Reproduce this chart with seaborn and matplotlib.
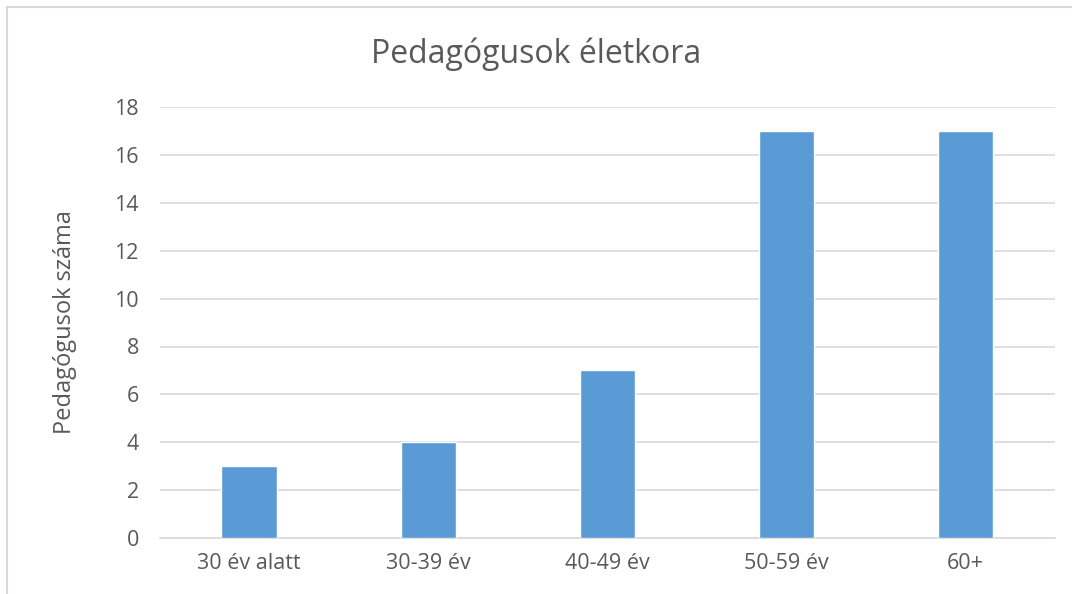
import matplotlib
matplotlib.use("Agg")
import matplotlib.pyplot as plt
import seaborn as sns
import pandas as pd

# data
age_groups = ["30 év alatt", "30-39 év", "40-49 év", "50-59 év", "60+"]
teacher_counts = [3, 4, 7, 17, 17]
y_ticks = [0, 2, 4, 6, 8, 10, 12, 14, 16, 18]

sns.set_theme(style="white")
plt.rcParams["font.family"] = ["Open Sans", "DejaVu Sans"]

df = pd.DataFrame({"group": age_groups, "count": teacher_counts})

fig = plt.figure(figsize=(10.72, 5.94), dpi=100)
ax = fig.add_axes([0.149, 0.094, 0.835, 0.726])

sns.barplot(data=df, x="group", y="count", color="#5B9BD5", width=0.31,
            saturation=1, ax=ax, zorder=3)

ax.set_ylim(0, 18)
ax.set_yticks(y_ticks)
ax.yaxis.grid(True, color="#D9D9D9", linewidth=1.2, zorder=0)
for s in ["top", "right", "left"]:
    ax.spines[s].set_visible(False)
ax.spines["bottom"].set_color("#D9D9D9")
ax.spines["bottom"].set_linewidth(1.2)
ax.tick_params(axis="both", length=0, labelsize=15.5, labelcolor="#595959")
ax.tick_params(axis="x", pad=11)
ax.tick_params(axis="y", pad=15)
ax.set_xlabel("")
ax.set_ylabel("Pedagógusok száma", fontsize=17, color="#595959", labelpad=27)

fig.suptitle("Pedagógusok életkora", fontsize=23, color="#595959", y=0.937)

# thin frame around the chart area like the spreadsheet export
fig.patches.append(plt.Rectangle((0.0065, -0.01), 1.0, 0.998, transform=fig.transFigure,
                                 fill=False, edgecolor="#D9D9D9", linewidth=1.5))

plt.savefig("out.png", dpi=100)
plt.close()
